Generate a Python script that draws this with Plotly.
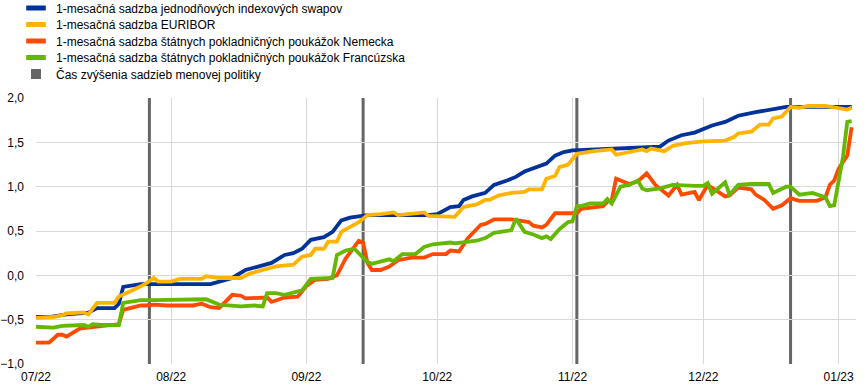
import plotly.graph_objects as go

# ---------------- data ----------------
SERIES_NAMES = [
    "1-mesačná sadzba jednodňových indexových swapov",
    "1-mesačná sadzba EURIBOR",
    "1-mesačná sadzba štátnych pokladničných poukážok Nemecka",
    "1-mesačná sadzba štátnych pokladničných poukážok Francúzska",
]
POLICY_NAME = "Čas zvýšenia sadzieb menovej politiky"

OIS_DATES = ["2022-07-01","2022-07-04","2022-07-08","2022-07-13","2022-07-15","2022-07-19","2022-07-20","2022-07-21",
             "2022-07-25","2022-07-28","2022-08-10","2022-08-15","2022-08-18","2022-08-24","2022-08-27","2022-08-29",
             "2022-08-31","2022-09-02","2022-09-05","2022-09-07","2022-09-09","2022-09-11","2022-09-13","2022-09-15",
             "2022-09-29","2022-10-01","2022-10-04","2022-10-06","2022-10-07","2022-10-09","2022-10-12","2022-10-14",
             "2022-10-17","2022-10-19","2022-10-21","2022-10-24","2022-10-26","2022-10-28","2022-10-30","2022-11-01",
             "2022-11-21","2022-11-23","2022-11-26","2022-11-29","2022-12-03","2022-12-06","2022-12-09","2022-12-13",
             "2022-12-17","2022-12-20","2023-01-04"]
OIS = [-0.47,-0.47,-0.44,-0.42,-0.37,-0.37,-0.32,-0.13,
       -0.10,-0.10,-0.10,-0.03,0.06,0.14,0.23,0.25,
       0.30,0.40,0.43,0.49,0.62,0.65,0.66,0.68,
       0.68,0.69,0.77,0.78,0.85,0.89,0.93,1.02,
       1.07,1.11,1.17,1.22,1.26,1.35,1.39,1.41,
       1.45,1.52,1.58,1.61,1.69,1.73,1.80,1.84,
       1.88,1.90,1.90]

EURIBOR_DATES = ["2022-07-01","2022-07-04","2022-07-05","2022-07-07","2022-07-08","2022-07-11","2022-07-12","2022-07-13",
                 "2022-07-15","2022-07-19","2022-07-20","2022-07-23","2022-07-25","2022-07-26","2022-07-28","2022-07-29",
                 "2022-08-01","2022-08-03","2022-08-08","2022-08-09","2022-08-12","2022-08-17","2022-08-19","2022-08-22",
                 "2022-08-25","2022-08-29","2022-08-31","2022-09-02","2022-09-03","2022-09-05","2022-09-06","2022-09-08",
                 "2022-09-09","2022-09-13","2022-09-15","2022-09-18","2022-09-21","2022-09-22","2022-09-28","2022-09-29",
                 "2022-10-05","2022-10-07","2022-10-10","2022-10-12","2022-10-13","2022-10-15","2022-10-18","2022-10-21",
                 "2022-10-22","2022-10-25","2022-10-26","2022-10-28","2022-10-29","2022-10-31","2022-11-02","2022-11-06",
                 "2022-11-10","2022-11-11","2022-11-14","2022-11-17","2022-11-18","2022-11-19","2022-11-22","2022-11-24",
                 "2022-11-27","2022-12-01","2022-12-06","2022-12-08","2022-12-09","2022-12-12","2022-12-14","2022-12-16",
                 "2022-12-17","2022-12-19","2022-12-21","2022-12-23","2022-12-25","2022-12-29","2023-01-03","2023-01-04"]
EURIBOR = [-0.48,-0.48,-0.47,-0.45,-0.43,-0.42,-0.42,-0.44,
           -0.31,-0.31,-0.24,-0.17,-0.13,-0.10,-0.03,-0.07,
           -0.07,-0.04,-0.04,-0.01,-0.03,-0.03,0.02,0.06,
           0.10,0.12,0.21,0.23,0.30,0.30,0.38,0.38,
           0.49,0.60,0.68,0.69,0.71,0.68,0.71,0.67,
           0.66,0.77,0.80,0.85,0.85,0.90,0.93,0.94,
           0.97,0.97,1.09,1.12,1.22,1.25,1.37,1.40,
           1.42,1.36,1.39,1.42,1.40,1.43,1.40,1.46,
           1.49,1.51,1.52,1.56,1.60,1.62,1.70,1.70,
           1.77,1.79,1.90,1.89,1.91,1.91,1.87,1.89]

DE_DATES = ["2022-07-01","2022-07-04","2022-07-06","2022-07-07","2022-07-08","2022-07-11","2022-07-13","2022-07-15",
            "2022-07-18","2022-07-20","2022-07-21","2022-07-25","2022-07-26","2022-07-28","2022-07-31","2022-08-06",
            "2022-08-08","2022-08-10","2022-08-12","2022-08-15","2022-08-17","2022-08-18","2022-08-23","2022-08-24",
            "2022-08-27","2022-08-30","2022-09-01","2022-09-02","2022-09-03","2022-09-06","2022-09-08","2022-09-10",
            "2022-09-13","2022-09-14","2022-09-15","2022-09-16","2022-09-18","2022-09-20","2022-09-22","2022-09-25",
            "2022-09-28","2022-09-30","2022-10-03","2022-10-04","2022-10-06","2022-10-08","2022-10-11","2022-10-12",
            "2022-10-14","2022-10-18","2022-10-19","2022-10-22","2022-10-23","2022-10-25","2022-10-26","2022-10-28",
            "2022-10-31","2022-11-02","2022-11-03","2022-11-06","2022-11-08","2022-11-09","2022-11-10","2022-11-11",
            "2022-11-14","2022-11-16","2022-11-18","2022-11-20","2022-11-23","2022-11-25","2022-11-26","2022-11-29",
            "2022-11-30","2022-12-02","2022-12-04","2022-12-06","2022-12-07","2022-12-09","2022-12-12","2022-12-13",
            "2022-12-15","2022-12-17","2022-12-19","2022-12-21","2022-12-23","2022-12-27","2022-12-29","2022-12-30",
            "2022-12-31","2023-01-01","2023-01-03","2023-01-04"]
DE = [-0.76,-0.76,-0.67,-0.67,-0.69,-0.60,-0.59,-0.58,
      -0.56,-0.55,-0.39,-0.34,-0.34,-0.33,-0.34,-0.34,
      -0.32,-0.36,-0.37,-0.22,-0.23,-0.26,-0.25,-0.30,
      -0.25,-0.24,-0.12,-0.09,-0.05,-0.04,0.00,0.19,
      0.39,0.37,0.14,0.06,0.06,0.10,0.17,0.20,
      0.20,0.24,0.24,0.28,0.27,0.42,0.57,0.58,
      0.63,0.63,0.62,0.60,0.56,0.54,0.57,0.70,
      0.70,0.70,0.75,0.77,0.78,0.83,0.85,1.09,
      1.03,1.06,1.15,1.02,0.90,1.02,0.91,0.94,
      0.85,1.02,0.95,0.89,0.90,0.99,0.97,0.91,
      0.85,0.75,0.79,0.87,0.84,0.84,0.88,1.02,
      1.07,1.20,1.35,1.67]

FR_DATES = ["2022-07-01","2022-07-04","2022-07-05","2022-07-07","2022-07-10","2022-07-12","2022-07-13","2022-07-14",
            "2022-07-16","2022-07-20","2022-07-21","2022-07-25","2022-07-28","2022-08-03","2022-08-09","2022-08-12",
            "2022-08-17","2022-08-20","2022-08-22","2022-08-23","2022-08-25","2022-08-27","2022-08-29","2022-08-31",
            "2022-09-02","2022-09-06","2022-09-07","2022-09-08","2022-09-10","2022-09-12","2022-09-15","2022-09-16",
            "2022-09-20","2022-09-21","2022-09-23","2022-09-26","2022-09-28","2022-09-30","2022-10-04","2022-10-05",
            "2022-10-08","2022-10-10","2022-10-12","2022-10-14","2022-10-17","2022-10-18","2022-10-19","2022-10-21",
            "2022-10-23","2022-10-25","2022-10-26","2022-10-27","2022-10-29","2022-10-31","2022-11-01","2022-11-02",
            "2022-11-03","2022-11-05","2022-11-08","2022-11-09","2022-11-10","2022-11-12","2022-11-14","2022-11-16",
            "2022-11-17","2022-11-18","2022-11-21","2022-11-24","2022-11-29","2022-12-01","2022-12-02","2022-12-03",
            "2022-12-06","2022-12-07","2022-12-09","2022-12-12","2022-12-16","2022-12-17","2022-12-20","2022-12-21",
            "2022-12-23","2022-12-26","2022-12-29","2022-12-30","2022-12-31","2023-01-02","2023-01-03","2023-01-04"]
FR = [-0.58,-0.58,-0.59,-0.57,-0.56,-0.56,-0.58,-0.55,
      -0.56,-0.56,-0.31,-0.28,-0.28,-0.28,-0.27,-0.33,
      -0.35,-0.34,-0.35,-0.20,-0.20,-0.22,-0.20,-0.17,
      -0.04,-0.03,-0.03,0.23,0.28,0.30,0.15,0.13,
      0.18,0.16,0.24,0.24,0.32,0.35,0.37,0.36,
      0.38,0.39,0.42,0.48,0.50,0.51,0.64,0.49,
      0.46,0.42,0.44,0.41,0.52,0.60,0.61,0.78,
      0.78,0.81,0.81,0.86,0.81,1.00,1.02,1.07,
      0.98,0.96,0.98,1.02,1.01,1.01,1.04,0.92,
      1.05,0.91,1.02,1.03,1.03,0.93,1.00,1.00,
      0.91,0.93,0.88,0.78,0.79,1.33,1.73,1.74]

POLICY_DATES = ["2022-07-27", "2022-09-14", "2022-11-02", "2022-12-21"]

MONTH_TICKS = ["2022-07-01", "2022-08-01", "2022-09-01", "2022-10-01", "2022-11-01", "2022-12-01", "2023-01-01"]
MONTH_LABELS = ["07/22", "08/22", "09/22", "10/22", "11/22", "12/22", "01/23"]
Y_TICKS = [-1.0, -0.5, 0.0, 0.5, 1.0, 1.5, 2.0]

# ---------------- styling ----------------
COLORS = ["#003299", "#ffb400", "#ff4b00", "#65b800"]
POLICY_COLOR = "#666666"
FONT = "Arial, 'Liberation Sans', sans-serif"

for d, v in [(OIS_DATES, OIS), (EURIBOR_DATES, EURIBOR), (DE_DATES, DE), (FR_DATES, FR)]:
    assert len(d) == len(v), (len(d), len(v))

fig = go.Figure()

series = [(OIS_DATES, OIS), (EURIBOR_DATES, EURIBOR), (DE_DATES, DE), (FR_DATES, FR)]
for (dates, vals), color in zip(series, COLORS):
    fig.add_trace(go.Scatter(x=dates, y=vals, mode="lines", showlegend=False,
                             line=dict(color=color, width=3.8), hoverinfo="skip"))

# legend entries (one legend per row so spacing matches)
legend_names = ["legend", "legend2", "legend3", "legend4", "legend5"]
for i, (name, color) in enumerate(zip(SERIES_NAMES, COLORS)):
    fig.add_trace(go.Scatter(x=[None], y=[None], mode="markers", name=name, legend=legend_names[i],
                             marker=dict(symbol="line-ew", size=14, color=color,
                                         line=dict(width=5, color=color))))
fig.add_trace(go.Scatter(x=[None], y=[None], mode="markers", name=POLICY_NAME, legend=legend_names[4],
                         marker=dict(symbol="square", size=10, color=POLICY_COLOR)))

for d in POLICY_DATES:
    fig.add_shape(type="line", xref="x", yref="paper", x0=d, x1=d, y0=0, y1=1,
                  line=dict(color=POLICY_COLOR, width=3), layer="between")

W, H = 868, 392
PLOT_L, PLOT_R, PLOT_T, PLOT_B = 36, 856, 98, 364   # plot box in window pixels
M_L, M_R, M_T, M_B = PLOT_L, W - PLOT_R, PLOT_T, H - PLOT_B
plot_h = PLOT_B - PLOT_T
plot_w = PLOT_R - PLOT_L
row_y = [8, 24.5, 41, 57.5, 74]
legend_layout = {}
for i, ln in enumerate(legend_names):
    legend_layout[ln] = dict(
        x=(16 - PLOT_L) / plot_w, xanchor="left",
        y=(PLOT_B - row_y[i]) / plot_h, yanchor="middle",
        bgcolor="rgba(0,0,0,0)", borderwidth=0,
        font=dict(family=FONT, size=12, color="#000000"),
        itemwidth=30,
    )

fig.update_layout(
    width=W, height=H,
    margin=dict(l=M_L, r=M_R, t=M_T, b=M_B, autoexpand=False),
    paper_bgcolor="white", plot_bgcolor="white",
    separators=", ",
    font=dict(family=FONT, size=12, color="#000000"),
    **legend_layout,
)

fig.update_xaxes(
    type="date", range=["2022-07-01", "2023-01-05"],
    tickmode="array", tickvals=MONTH_TICKS, ticktext=MONTH_LABELS,
    showgrid=True, gridcolor="#d9d9d9", gridwidth=1,
    zeroline=False, showline=False, ticks="", automargin=False, ticklabelstandoff=4,
    tickfont=dict(family=FONT, size=12, color="#000000"),
)
fig.update_yaxes(
    range=[-1.0, 2.0], tickmode="array", tickvals=Y_TICKS, tickformat=".1f",
    showgrid=True, gridcolor="#d9d9d9", gridwidth=1,
    zeroline=False, showline=False, ticks="", ticklabelstandoff=11, automargin=False,
    tickfont=dict(family=FONT, size=12, color="#000000"),
)

# remove the browser's default 8px body margin so the figure fills the window exactly
fig.write_html("out.html", config={"displayModeBar": False},
               post_script="document.body.style.margin='0';document.body.style.overflow='hidden';")
